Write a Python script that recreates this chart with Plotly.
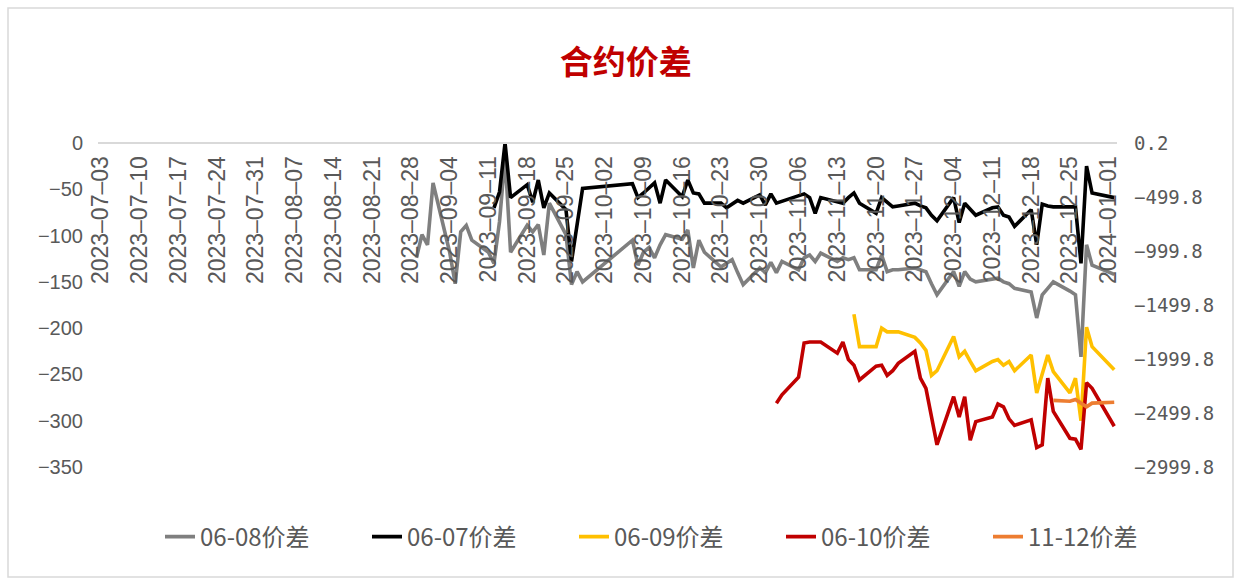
import pandas as pd
import plotly.graph_objects as go

# ---- trading calendar (National Day holiday off, Oct 7/8 make-up working days) ----
trade_days = pd.bdate_range("2023-08-29", "2024-01-02")
trade_days = trade_days[~((trade_days >= "2023-09-29") & (trade_days <= "2023-10-06"))]
trade_days = trade_days[trade_days != pd.Timestamp("2024-01-01")]
trade_days = trade_days.union(pd.DatetimeIndex(["2023-10-07", "2023-10-08"]))

series_names = ["06-08价差", "06-07价差", "06-09价差", "06-10价差", "11-12价差"]
series_start = ["2023-08-29", "2023-09-12", "2023-11-16", "2023-11-02", "2023-12-22"]
series_colors = ["#7F7F7F", "#000000", "#FFC000", "#C00000", "#ED7D31"]

spread_0608 = [
    -124, -99, -110, -43,
    -118, -152, -96, -89, -105,
    -118, -130, -85, -15, -118,
    -89, -96, -88, -121, -65,
    -99, -153, -139, -150,
    -105, -132,
    -118, -113, -124, -110, -99,
    -104, -94, -135, -105, -118,
    -134, -130, -126, -140, -153,
    -135, -140, -129, -140, -128,
    -137, -124, -121, -128, -119,
    -128, -124, -126, -124, -137,
    -137, -121, -139, -137, -137,
    -135, -137, -139, -152, -164,
    -139, -155, -139, -147, -150,
    -147, -146, -150, -152, -157,
    -161, -189, -164, -157, -150,
    -160, -164, -231, -110, -132,
    -142,
]
spread_0607 = [
    -70, -53, 0, -59,
    -45, -64, -40, -70, -54,
    -72, -128, -90, -49,
    -44, -59,
    -54, -49, -43, -65, -40,
    -58, -40, -54, -55, -65,
    -65, -70, -66, -62, -65,
    -56, -67, -55, -65, -63,
    -56, -55, -59, -76, -59,
    -63, -65, -59, -54, -65,
    -76, -59, -64, -69, -68,
    -65, -68, -70, -78, -84,
    -59, -86, -65, -72, -78,
    -70, -69, -78, -80, -90,
    -72, -110, -66, -68, -69,
    -69, -69, -130, -25, -54,
    -59,
]
spread_0609 = [
    -185, -220,
    -220, -200, -204, -204, -204,
    -210, -216, -224, -251, -246,
    -209, -231, -225, -236, -246,
    -236, -234, -240, -236, -246,
    -229, -270, -250, -229, -247,
    -270, -254, -300, -199, -220,
    -245,
]
spread_0610 = [
    -281, -272,
    -253, -216, -215, -215, -215,
    -227, -215, -234, -240, -256,
    -241, -240, -251, -246, -238,
    -225, -254, -265, -296, -326,
    -274, -296, -274, -321, -301,
    -296, -282, -285, -298, -305,
    -299, -329, -326, -254, -290,
    -319, -320, -331, -259, -265,
    -306,
]
spread_1112 = [-278, -279, -277, -281, -285, -281, -280]

series_values = [spread_0608, spread_0607, spread_0609, spread_0610, spread_1112]

# axis ticks
week_ticks = pd.date_range("2023-07-03", "2024-01-01", freq="7D")
left_ticks = [0, -50, -100, -150, -200, -250, -300, -350]
right_ticks = [0.2, -499.8, -999.8, -1499.8, -1999.8, -2499.8, -2999.8]
right_text = ["0.2", "−499.8", "−999.8", "−1499.8", "−1999.8", "−2499.8", "−2999.8"]

fig = go.Figure()
for name, start, color, vals in zip(series_names, series_start, series_colors, series_values):
    days = trade_days[trade_days >= pd.Timestamp(start)]
    fig.add_trace(go.Scatter(
        x=days, y=vals, name=name, mode="lines",
        line=dict(color=color, width=3.6),
    ))
# secondary axis holder
fig.add_trace(go.Scatter(x=[], y=[], yaxis="y2", showlegend=False))

TICK_GRAY = "#595959"
fig.update_layout(
    width=1241, height=583,
    margin=dict(l=98, r=124, t=143, b=116),
    paper_bgcolor="white", plot_bgcolor="white",
    title=dict(
        text="<b>合约价差</b>",
        font=dict(family="Noto Sans CJK SC", size=33, color="#C00000"),
        x=0.518, xref="paper", xanchor="center",
        y=1 - 62 / 583, yref="container", yanchor="middle",
    ),
    xaxis=dict(
        type="date",
        range=["2023-07-02 12:00", "2024-01-02 12:00"],
        anchor="free", position=1, side="bottom",
        tickvals=week_ticks,
        tickformat="%Y–%m–%d",
        tickangle=-90,
        tickfont=dict(family="Liberation Sans", size=23, color=TICK_GRAY),
        showline=True, linecolor="#D9D9D9", linewidth=2,
        showgrid=False, zeroline=False, ticks="",
        ticklabelstandoff=3,
    ),
    yaxis=dict(
        range=[-350, 0],
        tickvals=left_ticks,
        tickfont=dict(family="Liberation Sans", size=20, color=TICK_GRAY),
        showgrid=False, zeroline=False, showline=False, ticks="",
        ticklabelstandoff=14,
    ),
    yaxis2=dict(
        overlaying="y", side="right",
        range=[-2999.8, 0.2],
        tickvals=right_ticks, ticktext=right_text,
        tickfont=dict(family="DejaVu Sans Mono", size=19, color=TICK_GRAY),
        showgrid=False, zeroline=False, showline=False, ticks="",
        ticklabelstandoff=16,
    ),
    legend=dict(
        orientation="h",
        x=(1195 - 98) / 1019, xanchor="right",
        y=(467 - 537) / 324, yanchor="middle",
        font=dict(family="Noto Sans CJK SC", size=24, color=TICK_GRAY),
        entrywidth=162, entrywidthmode="pixels",
        bgcolor="rgba(0,0,0,0)",
    ),
    shapes=[dict(
        type="rect", xref="paper", yref="paper",
        x0=(8 - 98) / 1019, x1=(1233 - 98) / 1019,
        y0=(467 - 577) / 324, y1=(467 - 8) / 324,
        line=dict(color="#D9D9D9", width=1.5),
        fillcolor="rgba(0,0,0,0)", layer="below",
    )],
    showlegend=True,
)

fig.write_html("out.html")
